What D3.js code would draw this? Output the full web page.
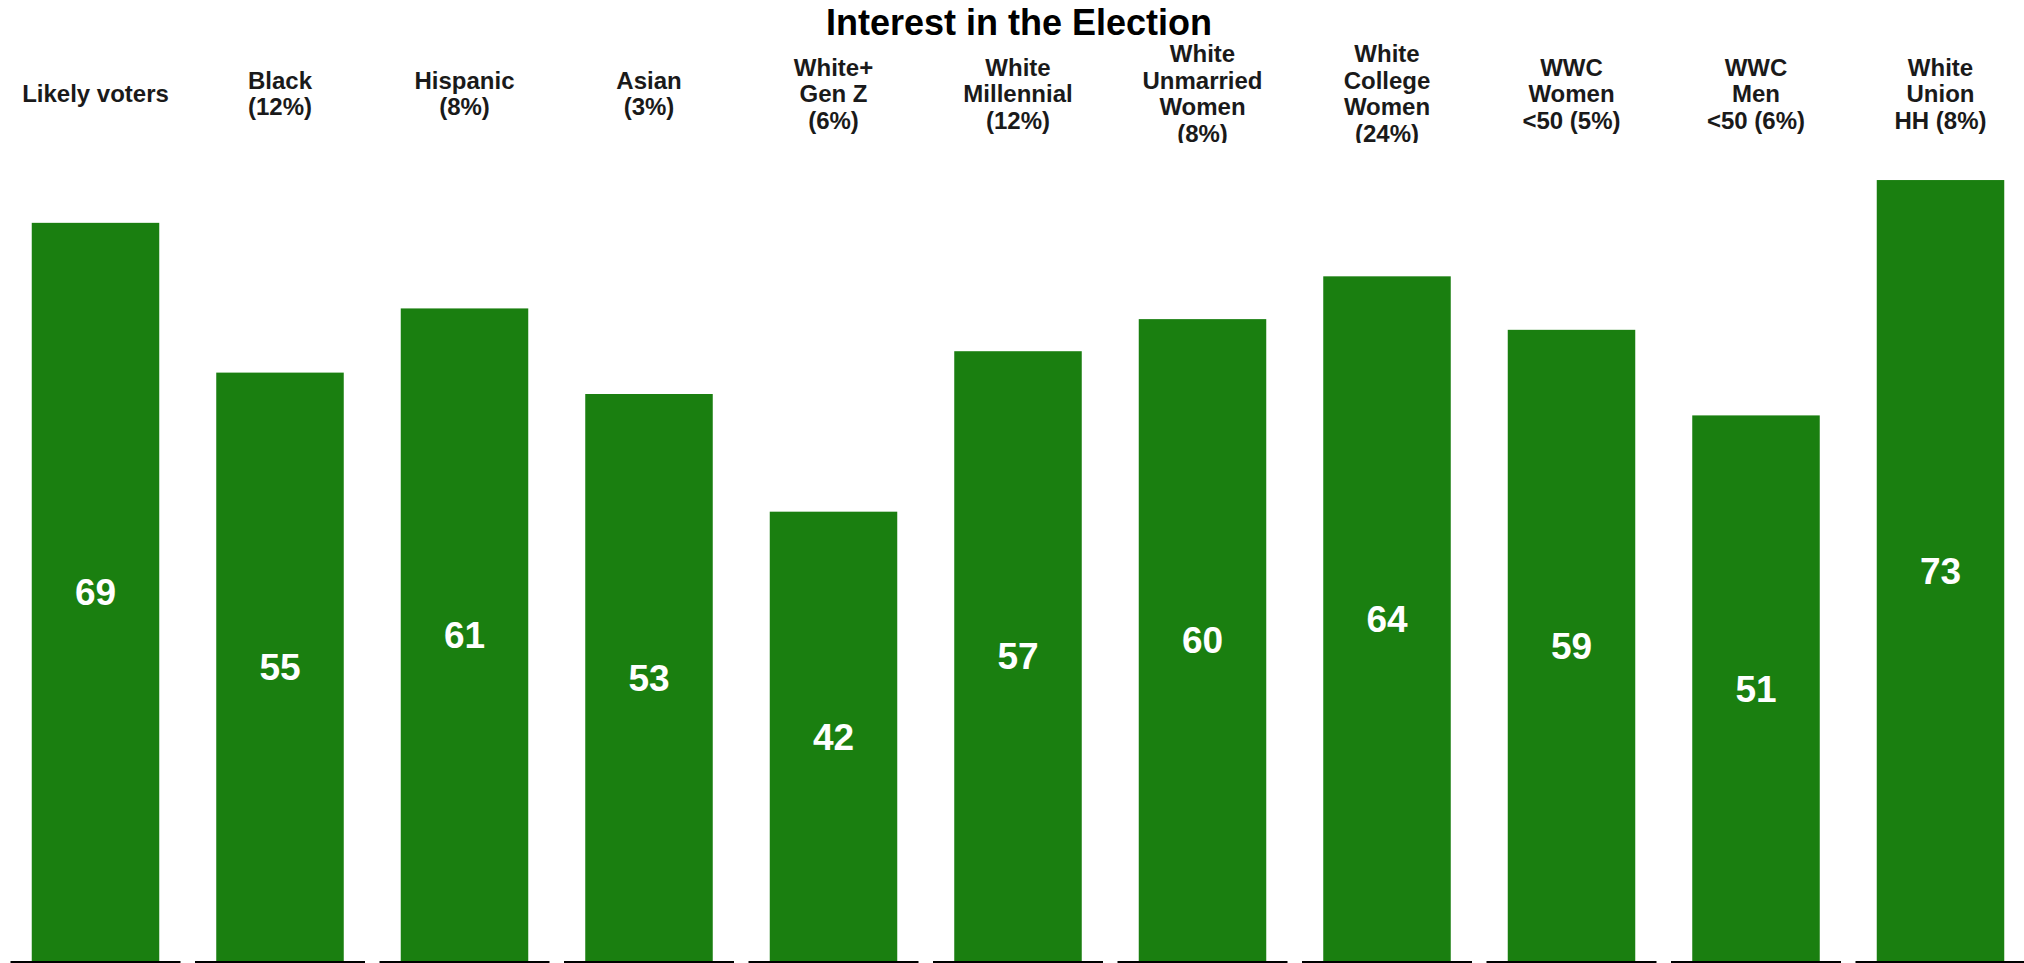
<!DOCTYPE html>
<html>
<head>
<meta charset="utf-8">
<script src="https://cdn.jsdelivr.net/npm/d3@7"></script>
<style>
  html, body { margin: 0; padding: 0; background: #ffffff; }
  svg { display: block; }
  text { font-family: "Liberation Sans", Arial, Helvetica, sans-serif; }
</style>
</head>
<body>
<script>
// ---- data ----
const title = "Interest in the Election";
const categories = [
  ["Likely voters"],
  ["Black", "(12%)"],
  ["Hispanic", "(8%)"],
  ["Asian", "(3%)"],
  ["White+", "Gen Z", "(6%)"],
  ["White", "Millennial", "(12%)"],
  ["White", "Unmarried", "Women", "(8%)"],
  ["White", "College", "Women", "(24%)"],
  ["WWC", "Women", "<50 (5%)"],
  ["WWC", "Men", "<50 (6%)"],
  ["White", "Union", "HH (8%)"]
];
const values = [69, 55, 61, 53, 42, 57, 60, 64, 59, 51, 73];

// ---- layout ----
const W = 2024, H = 963;
const panelLeft = 10.5, panelRight = 2025.5;
const panelTop = 141, panelBottom = 961;
const barColor = "#1a7f10";

const svg = d3.select("body").append("svg")
  .attr("width", W).attr("height", H);

const ids = categories.map((c, i) => i);

// facet panels (outer band scale)
const fx = d3.scaleBand()
  .domain(ids)
  .range([panelLeft, panelRight])
  .paddingInner(14.5 / 184.5)
  .paddingOuter(0);

// bar within each panel (ggplot discrete: width 0.9 of range 1.2)
const barFrac = 0.75;

const y = d3.scaleLinear()
  .domain([0, d3.max(values) * 1.05])
  .range([panelBottom, panelTop]);

// title
svg.append("text")
  .attr("x", 1019)
  .attr("y", 35)
  .attr("text-anchor", "middle")
  .attr("font-weight", "bold")
  .attr("font-size", 36)
  .attr("fill", "#000")
  .text(title);

// clip for strip area
svg.append("clipPath").attr("id", "stripclip")
  .append("rect").attr("x", 0).attr("y", 40).attr("width", W).attr("height", panelTop + 2 - 40);

const strips = svg.append("g").attr("clip-path", "url(#stripclip)");
const lineH = 26.5, stripMid = 94, capHalf = 8;

categories.forEach((lines, i) => {
  const cx = fx(i) + fx.bandwidth() / 2;
  const t = strips.append("text")
    .attr("text-anchor", "middle")
    .attr("font-weight", "bold")
    .attr("font-size", 24)
    .attr("fill", "#1a1a1a");
  lines.forEach((ln, j) => {
    t.append("tspan")
      .attr("x", cx)
      .attr("y", stripMid + capHalf + (j - (lines.length - 1) / 2) * lineH)
      .text(ln);
  });
});

// bars
const bw = fx.bandwidth() * barFrac;
svg.append("g").selectAll("rect")
  .data(values)
  .join("rect")
  .attr("x", (d, i) => fx(i) + (fx.bandwidth() - bw) / 2)
  .attr("y", d => y(d))
  .attr("width", bw)
  .attr("height", d => y(0) - y(d))
  .attr("fill", barColor);

// value labels
svg.append("g").selectAll("text")
  .data(values)
  .join("text")
  .attr("x", (d, i) => fx(i) + fx.bandwidth() / 2)
  .attr("y", d => y(d / 2))
  .attr("dy", "0.36em")
  .attr("text-anchor", "middle")
  .attr("font-weight", "bold")
  .attr("font-size", 37)
  .attr("fill", "#ffffff")
  .text(d => d);

// per-panel x axis lines
svg.append("g").selectAll("line")
  .data(ids)
  .join("line")
  .attr("x1", i => fx(i))
  .attr("x2", i => fx(i) + fx.bandwidth())
  .attr("y1", panelBottom + 1.5)
  .attr("y2", panelBottom + 1.5)
  .attr("stroke", "#000")
  .attr("stroke-width", 3);
</script>
</body>
</html>
